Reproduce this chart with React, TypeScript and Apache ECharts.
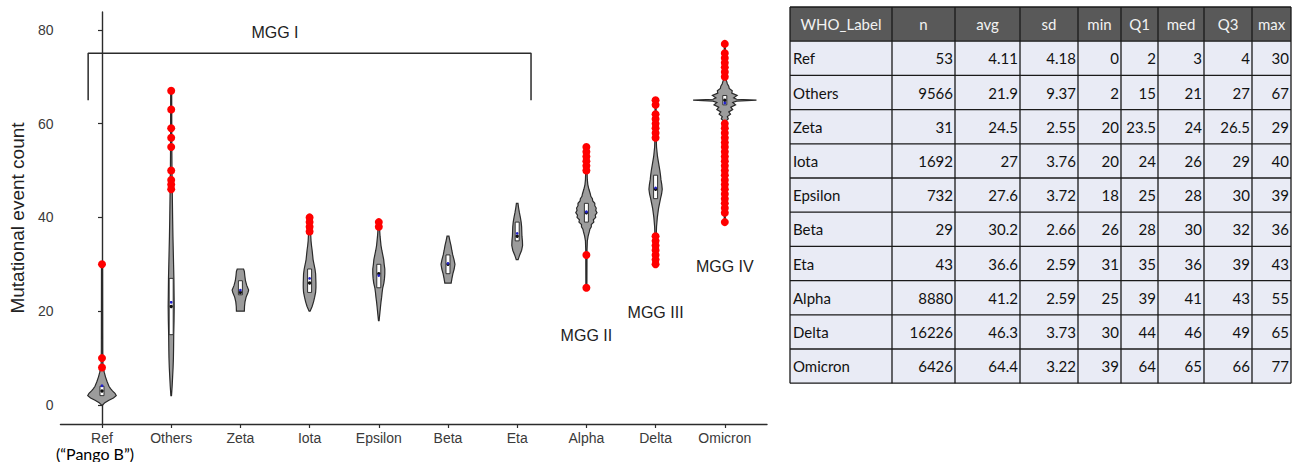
import React, { useEffect, useRef } from 'react';
import * as echarts from 'echarts';

// ---- Data -----------------------------------------------------------------
const categories = ['Ref', 'Others', 'Zeta', 'Iota', 'Epsilon', 'Beta', 'Eta', 'Alpha', 'Delta', 'Omicron'];

const statN = [53, 9566, 31, 1692, 732, 29, 43, 8880, 16226, 6426];
const statAvg = [4.11, 21.9, 24.5, 27, 27.6, 30.2, 36.6, 41.2, 46.3, 64.4];
const statSd = [4.18, 9.37, 2.55, 3.76, 3.72, 2.66, 2.59, 2.59, 3.73, 3.22];
const statMin = [0, 2, 20, 20, 18, 26, 31, 25, 30, 39];
const statQ1 = [2, 15, 23.5, 24, 25, 28, 35, 39, 44, 64];
const statMed = [3, 21, 24, 26, 28, 30, 36, 41, 46, 65];
const statQ3 = [4, 27, 26.5, 29, 30, 32, 39, 43, 49, 66];
const statMax = [30, 67, 29, 40, 39, 36, 43, 55, 65, 77];

// Relative kernel density (peak of the whole figure = 100), [value, density]
const densityRef = [[0, 2], [0.5, 9], [1, 22], [1.5, 36], [2, 45], [2.5, 41], [3, 33], [3.5, 27], [4, 22], [5, 16], [6, 11], [7, 7], [8, 4], [9, 2.5], [12, 2], [30, 1.6]];
const densityOthers = [[2, 1], [4, 3], [6, 4.5], [8, 6], [10, 7], [12, 7.5], [15, 8], [18, 9], [21, 9.5], [24, 9], [27, 8.5], [30, 7.5], [33, 6.5], [36, 5.5], [40, 4.5], [45, 3.5], [50, 2.5], [55, 2], [67, 1.6]];
const densityZeta = [[20, 12.5], [21, 13], [22, 14.5], [23, 18], [24, 24], [24.5, 26], [25.5, 20], [26.5, 16], [27.5, 14], [28.5, 12.5], [29, 10]];
const densityIota = [[20, 1.5], [21, 8], [22, 12.5], [23, 16], [24, 19], [25, 20], [26, 20], [27, 19.5], [28, 19], [29, 17], [30, 14], [31, 11], [32, 9.5], [33, 8], [34, 6], [35, 4.5], [36, 3.8], [37, 3], [38, 2.5], [40, 1.6]];
const densityEpsilon = [[18, 1], [19, 2.5], [20, 4], [21, 5.5], [22, 7], [23, 9], [24, 10.5], [25, 12.5], [26, 16], [27, 18], [28, 19], [29, 19], [30, 17], [31, 15.5], [32, 12.5], [33, 9.5], [34, 7], [35, 5.5], [36, 4], [37, 3], [39, 1.6]];
const densityBeta = [[26, 10], [27, 12.5], [28, 15.5], [29, 19.5], [30, 22], [31, 19], [32, 15], [33, 12], [34, 9.5], [35, 6], [36, 3]];
const densityEta = [[31, 3], [32, 8], [33, 14], [34, 17], [35, 16.5], [36, 15], [37, 14.5], [38, 14], [39, 12.5], [40, 10], [41, 7], [42, 4.5], [43, 2.5]];
const densityAlpha = [[25, 1.6], [33, 2], [35, 3], [36, 5.5], [37, 9.5], [37.5, 11], [38, 15.5], [38.5, 15.5], [39, 23.5], [39.5, 22], [40, 29.5], [40.5, 28], [41, 33.5], [41.5, 29.5], [42, 31], [42.5, 26.5], [43, 26.5], [43.5, 20], [44, 19], [44.5, 14], [45, 12.5], [46, 8], [47, 4.5], [48, 3], [50, 2], [55, 1.6]];
const densityDelta = [[30, 1.6], [36, 2], [38, 3], [40, 5.5], [42, 9.5], [43, 12.5], [44, 15.5], [45, 19], [46, 21], [47, 19.5], [48, 17], [49, 15.5], [50, 13.5], [51, 11], [52, 8.5], [53, 6], [54, 4.5], [55, 3], [57, 2], [65, 1.6]];
const densityOmicron = [[39, 1.6], [60, 2.5], [60.6, 4.5], [61, 11], [61.5, 8], [62, 18], [62.5, 12.5], [63, 25], [63.5, 19], [64, 34], [64.5, 25], [64.8, 37.5], [65, 100], [65.2, 37.5], [65.5, 28], [66, 39], [66.5, 22], [67, 23.5], [67.5, 14], [68, 12.5], [68.5, 8], [69, 6], [69.5, 3], [70, 2], [77, 1.6]];

const densities = [densityRef, densityOthers, densityZeta, densityIota, densityEpsilon, densityBeta, densityEta, densityAlpha, densityDelta, densityOmicron];

const outliersRef = [8, 10, 30];
const outliersOthers = [46, 47, 48, 50, 55, 57, 59, 63, 67];
const outliersIota = [37, 38, 39, 40];
const outliersEpsilon = [38, 39];
const outliersAlpha = [25, 32, 50, 51, 52, 53, 54, 55];
const outliersDelta = [30, 31, 32, 33, 34, 35, 36, 57, 58, 59, 60, 61, 62, 64, 65];
const outliersOmicron = [39, 41, 42, 43, 44, 45, 46, 47, 48, 49, 50, 51, 52, 53, 54, 55, 56, 57, 58, 59, 60, 70, 71, 72, 73, 74, 75, 77];

const outliers = [outliersRef, outliersOthers, [], outliersIota, outliersEpsilon, [], [], outliersAlpha, outliersDelta, outliersOmicron];

// Lineage-group annotation
const groupNames = ['MGG I', 'MGG II', 'MGG III', 'MGG IV'];
const groupLabelX = [2.5, 7, 8, 9];
const groupLabelY = [79.4, 14.9, 19.8, 29.6];
const bracketPath = [[-0.2, 65], [-0.2, 75], [6.2, 75], [6.2, 65]];

const yTicks = [0, 20, 40, 60, 80];

const tableHeaders = ['WHO_Label', 'n', 'avg', 'sd', 'min', 'Q1', 'med', 'Q3', 'max'];

// ---- Styling / layout -----------------------------------------------------
const AXIS_FONT = '"Liberation Sans", Arial, Helvetica, sans-serif';
const TABLE_FONT = 'Lato, "Open Sans", sans-serif';
const PEAK_HALF_WIDTH = 0.458; // category units for density 100
const BOX_HALF = 2;

const tableColEdges = [790, 892, 955, 1020, 1078, 1121, 1158, 1204, 1252, 1291];
const tableTop = 7;
const tableRowH = 34.2;

function buildTable() {
  const els: any[] = [];
  const left = tableColEdges[0];
  const right = tableColEdges[tableColEdges.length - 1];
  const nRows = categories.length + 1;
  const bottom = tableTop + nRows * tableRowH;
  els.push({ type: 'rect', shape: { x: left, y: tableTop, width: right - left, height: tableRowH }, style: { fill: '#595959' } });
  els.push({ type: 'rect', shape: { x: left, y: tableTop + tableRowH, width: right - left, height: categories.length * tableRowH }, style: { fill: '#e9ebf5' } });

  const columns = [statN, statAvg, statSd, statMin, statQ1, statMed, statQ3, statMax];
  tableHeaders.forEach((h, c) => {
    const cx = (tableColEdges[c] + tableColEdges[c + 1]) / 2;
    els.push({
      type: 'text',
      x: cx,
      y: tableTop + tableRowH / 2,
      style: { text: h, fill: '#f2f2f2', font: `15px ${TABLE_FONT}`, align: 'center', verticalAlign: 'middle' },
    });
  });
  categories.forEach((cat, r) => {
    const cy = tableTop + (r + 1) * tableRowH + tableRowH / 2;
    els.push({
      type: 'text',
      x: tableColEdges[0] + 3,
      y: cy,
      style: { text: cat, fill: '#111', font: `15px ${TABLE_FONT}`, align: 'left', verticalAlign: 'middle' },
    });
    columns.forEach((col, c) => {
      els.push({
        type: 'text',
        x: tableColEdges[c + 2] - 2,
        y: cy,
        style: { text: String(col[r]), fill: '#111', font: `15px ${TABLE_FONT}`, align: 'right', verticalAlign: 'middle' },
      });
    });
  });
  for (let r = 0; r <= nRows; r++) {
    const y = tableTop + r * tableRowH;
    els.push({ type: 'line', shape: { x1: left, y1: y, x2: right, y2: y }, style: { stroke: '#1a1a1a', lineWidth: 1.3 } });
  }
  tableColEdges.forEach((x) => {
    els.push({ type: 'line', shape: { x1: x, y1: tableTop, x2: x, y2: bottom }, style: { stroke: '#1a1a1a', lineWidth: 1.3 } });
  });
  return els;
}

function renderViolin(params: any, api: any) {
  const i = api.value(0);
  const prof = densities[i];
  const k = PEAK_HALF_WIDTH / 100;
  const pts: number[][] = [];
  for (const [v, d] of prof) pts.push(api.coord([i + d * k, v]));
  for (let j = prof.length - 1; j >= 0; j--) pts.push(api.coord([i - prof[j][1] * k, prof[j][0]]));
  const cx = api.coord([i, 0])[0];
  const yQ1 = api.coord([i, statQ1[i]])[1];
  const yQ3 = api.coord([i, statQ3[i]])[1];
  const yMed = api.coord([i, statMed[i]])[1];
  const yAvg = api.coord([i, statAvg[i]])[1];
  return {
    type: 'group',
    children: [
      { type: 'polygon', shape: { points: pts }, style: { fill: '#9c9c9c', stroke: '#2a2a2a', lineWidth: 1.2 } },
      { type: 'rect', shape: { x: cx - BOX_HALF, y: yQ3, width: BOX_HALF * 2, height: yQ1 - yQ3 }, style: { fill: '#ffffff', stroke: '#222', lineWidth: 0.9 } },
      { type: 'circle', shape: { cx, cy: yMed, r: 1.7 }, style: { fill: '#111' } },
      { type: 'circle', shape: { cx, cy: yAvg, r: 1.4 }, style: { fill: '#2222cc' } },
    ],
  };
}

function renderGroupLabel(params: any, api: any) {
  const idx = params.dataIndex;
  const p = api.coord([api.value(0), api.value(1)]);
  return {
    type: 'text',
    x: p[0],
    y: p[1],
    style: { text: groupNames[idx], fill: '#222', font: `16px ${AXIS_FONT}`, align: 'center', verticalAlign: 'middle' },
  };
}

function buildOption() {
  const outlierData: number[][] = [];
  outliers.forEach((arr, i) => arr.forEach((v) => outlierData.push([i, v])));
  const axisLine = { show: true, lineStyle: { color: '#2b2b2b', width: 1.4 } };
  return {
    animation: false,
    grid: { left: 54, top: 12, width: 713, height: 412 },
    xAxis: {
      type: 'value',
      min: -0.6,
      max: 9.61,
      axisLine: { ...axisLine, onZero: false },
      axisTick: { show: true, length: 4, customValues: categories.map((_, i) => i), lineStyle: { color: '#2b2b2b', width: 1.2 } },
      axisLabel: {
        customValues: categories.map((_, i) => i),
        formatter: (v: number) => categories[Math.round(v)],
        color: '#3a3a3a',
        fontSize: 14,
        fontFamily: AXIS_FONT,
        margin: 7,
      },
      splitLine: { show: false },
    },
    yAxis: {
      type: 'value',
      min: -4.05,
      max: 83.8,
      axisLine,
      axisTick: { show: true, length: 4, customValues: yTicks, lineStyle: { color: '#2b2b2b', width: 1.2 } },
      axisLabel: { customValues: yTicks, color: '#3a3a3a', fontSize: 14, fontFamily: AXIS_FONT, margin: 7 },
      splitLine: { show: false },
      name: 'Mutational event count',
      nameLocation: 'middle',
      nameGap: 29,
      nameTextStyle: { fontSize: 19, color: '#222', fontFamily: AXIS_FONT },
    },
    series: [
      {
        type: 'line',
        data: bracketPath,
        symbol: 'none',
        lineStyle: { color: '#2b2b2b', width: 1.5 },
        z: 1,
      },
      {
        type: 'custom',
        data: categories.map((_, i) => [i, statMed[i]]),
        renderItem: renderViolin,
        encode: { x: 0, y: 1 },
        z: 2,
      },
      {
        type: 'scatter',
        data: outlierData,
        symbolSize: 8,
        itemStyle: { color: '#ff0000', opacity: 1 },
        z: 3,
      },
      {
        type: 'custom',
        data: groupLabelX.map((x, i) => [x, groupLabelY[i]]),
        renderItem: renderGroupLabel,
        encode: { x: 0, y: 1 },
        z: 4,
      },
    ],
    graphic: [
      {
        type: 'text',
        x: 95,
        y: 453.5,
        style: { text: '(“Pango B”)', fill: '#000', font: `16px ${TABLE_FONT}`, align: 'center', verticalAlign: 'middle' },
      },
      ...buildTable(),
    ],
  };
}

export default function App() {
  const ref = useRef<HTMLDivElement>(null);
  useEffect(() => {
    const chart = echarts.init(ref.current!, null, { renderer: 'svg' });
    chart.setOption(buildOption() as any);
    return () => chart.dispose();
  }, []);
  return <div ref={ref} style={{ position: 'absolute', left: 0, top: 0, width: 1299, height: 462, background: '#fff' }} />;
}
